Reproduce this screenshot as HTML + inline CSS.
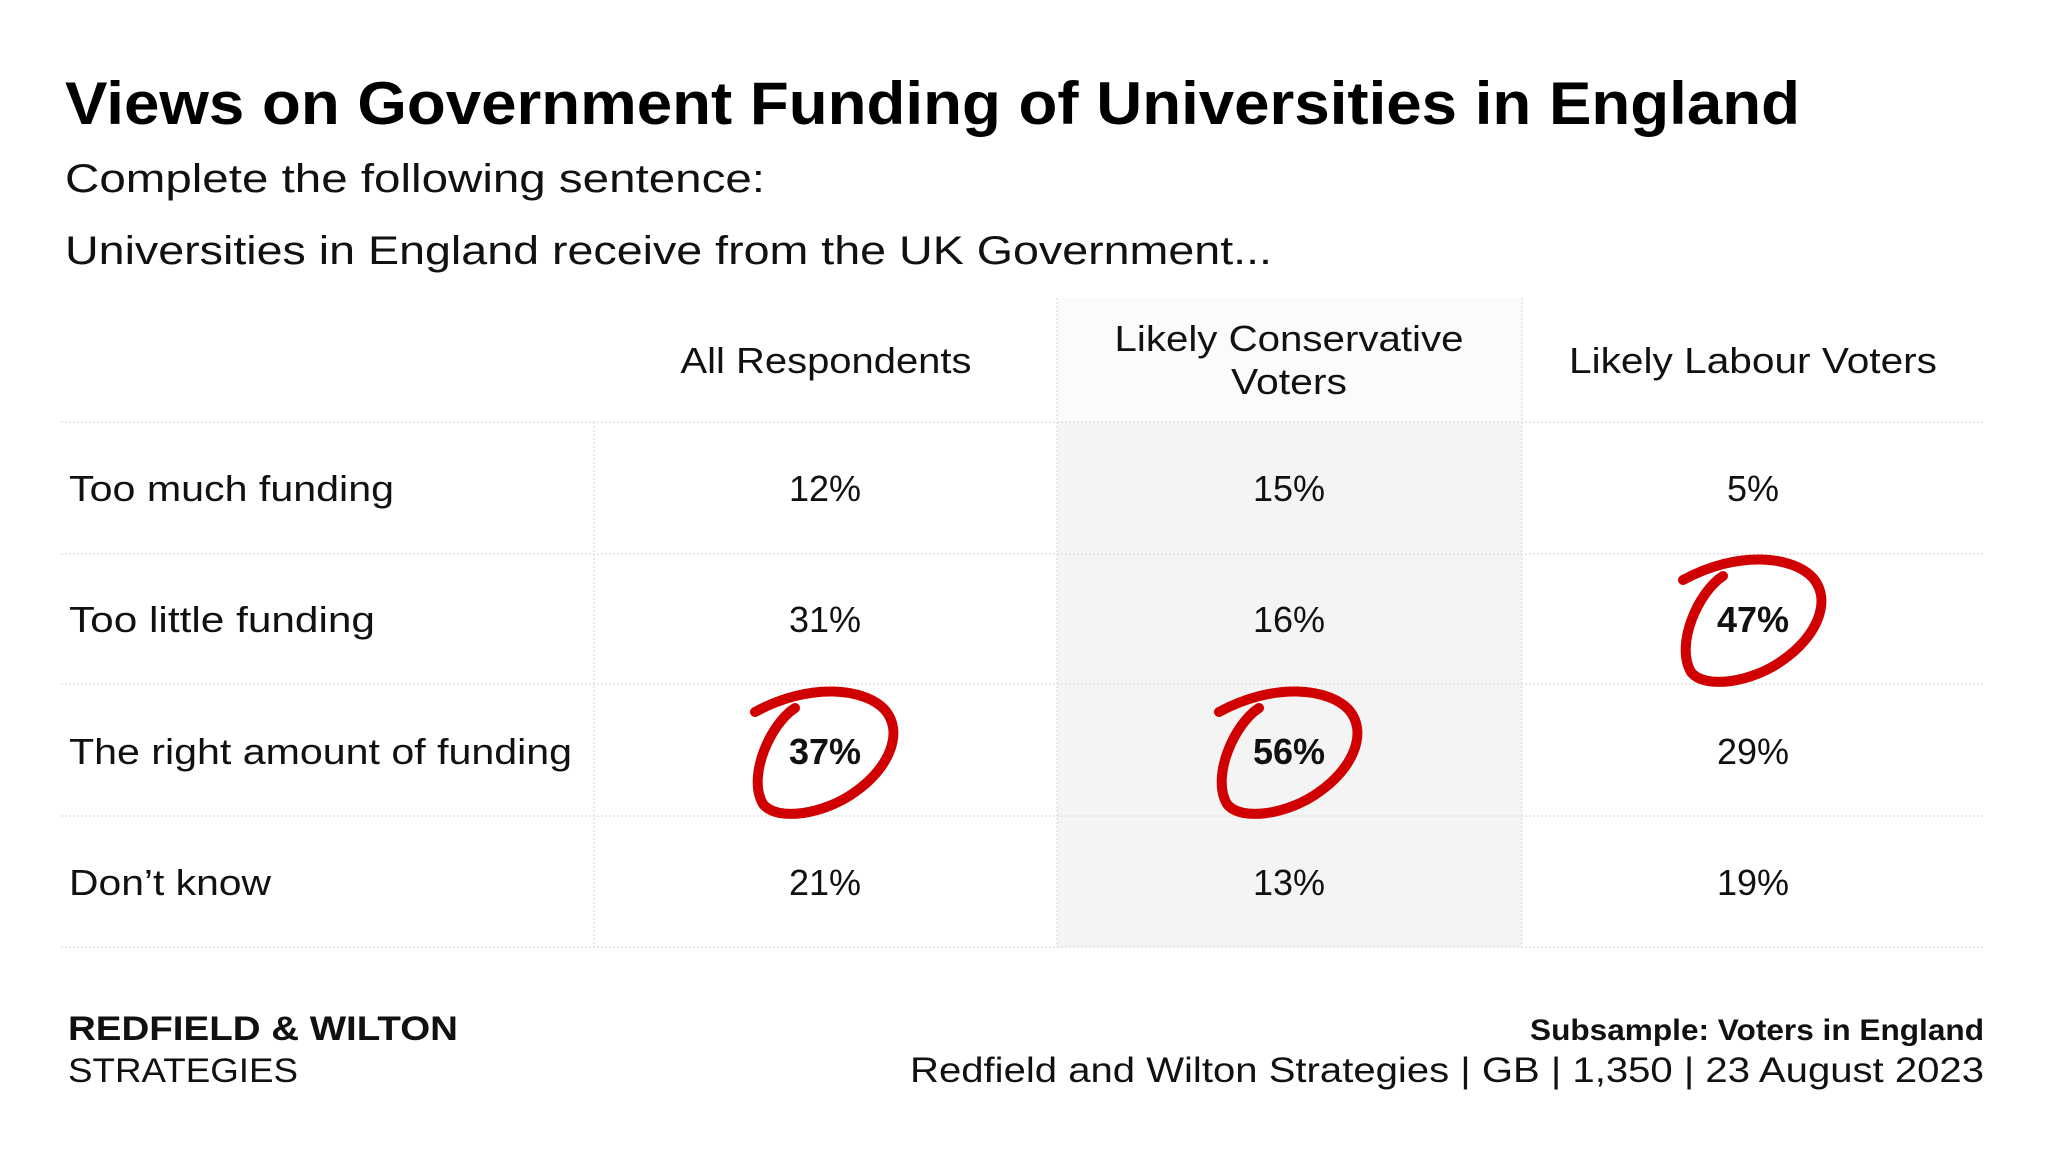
<!DOCTYPE html>
<html><head><meta charset="utf-8"><style>
html,body{margin:0;padding:0;background:#fff;}
svg{display:block;font-family:"Liberation Sans",sans-serif;}
</style></head><body>
<svg width="2048" height="1151" viewBox="0 0 2048 1151" xmlns="http://www.w3.org/2000/svg">
<rect width="2048" height="1151" fill="#fff"/>
<text x="65" y="124" font-size="60" font-weight="bold" fill="#000" textLength="1735" lengthAdjust="spacingAndGlyphs">Views on Government Funding of Universities in England</text>
<text x="65" y="192" font-size="40" fill="#111" textLength="700" lengthAdjust="spacingAndGlyphs">Complete the following sentence:</text>
<text x="65" y="264" font-size="40" fill="#111" textLength="1207" lengthAdjust="spacingAndGlyphs">Universities in England receive from the UK Government...</text>
<rect x="1057" y="298" width="465" height="124" fill="#fbfbfb"/>
<rect x="1057" y="422" width="465" height="525" fill="#f4f4f4"/>
<g stroke="#e2e2e2" stroke-width="1.5" stroke-dasharray="2,2">
<line x1="61" y1="422" x2="1983" y2="422"/>
<line x1="61" y1="554" x2="1983" y2="554"/>
<line x1="61" y1="684" x2="1983" y2="684"/>
<line x1="61" y1="816" x2="1983" y2="816"/>
<line x1="61" y1="947" x2="1983" y2="947"/>
<line x1="594" y1="422" x2="594" y2="947"/>
<line x1="1057" y1="298" x2="1057" y2="947"/>
<line x1="1522" y1="298" x2="1522" y2="947"/>
</g>
<g font-size="36" fill="#111" text-anchor="middle">
<text x="826" y="373" textLength="291" lengthAdjust="spacingAndGlyphs">All Respondents</text>
<text x="1289" y="351" textLength="349" lengthAdjust="spacingAndGlyphs">Likely Conservative</text>
<text x="1289" y="394" textLength="116" lengthAdjust="spacingAndGlyphs">Voters</text>
<text x="1753" y="373" textLength="368" lengthAdjust="spacingAndGlyphs">Likely Labour Voters</text>
</g>
<g font-size="36" fill="#111">
<text x="69" y="501" textLength="325" lengthAdjust="spacingAndGlyphs">Too much funding</text>
<text x="69" y="632" textLength="306" lengthAdjust="spacingAndGlyphs">Too little funding</text>
<text x="69" y="764" textLength="503" lengthAdjust="spacingAndGlyphs">The right amount of funding</text>
<text x="69" y="895" textLength="202" lengthAdjust="spacingAndGlyphs">Don’t know</text>
</g>
<g font-size="36" fill="#111" text-anchor="middle">
<text x="825" y="501">12%</text><text x="1289" y="501">15%</text><text x="1753" y="501">5%</text>
<text x="825" y="632">31%</text><text x="1289" y="632">16%</text><text x="1753" y="632" font-weight="bold">47%</text>
<text x="825" y="764" font-weight="bold">37%</text><text x="1289" y="764" font-weight="bold">56%</text><text x="1753" y="764">29%</text>
<text x="825" y="895">21%</text><text x="1289" y="895">13%</text><text x="1753" y="895">19%</text>
</g>
<defs>
<path id="circ" d="M -30,-44 C -55,-28 -78,25 -62,52 C -48,70 0,62 30,40 C 62,18 80,-18 60,-42 C 40,-64 -15,-70 -70,-40" fill="none" stroke="#d00000" stroke-width="10" stroke-linecap="round"/>
</defs>
<use href="#circ" x="825" y="752"/>
<use href="#circ" x="1289" y="752"/>
<use href="#circ" x="1753" y="620"/>
<text x="68" y="1040" font-size="34" font-weight="bold" fill="#111" textLength="390" lengthAdjust="spacingAndGlyphs">REDFIELD &amp; WILTON</text>
<text x="68" y="1082" font-size="34" fill="#111" textLength="230" lengthAdjust="spacingAndGlyphs">STRATEGIES</text>
<text x="1984" y="1040" font-size="30" font-weight="bold" fill="#111" text-anchor="end" textLength="454" lengthAdjust="spacingAndGlyphs">Subsample: Voters in England</text>
<text x="1984" y="1082" font-size="35" fill="#111" text-anchor="end" textLength="1074" lengthAdjust="spacingAndGlyphs">Redfield and Wilton Strategies | GB | 1,350 | 23 August 2023</text>
</svg>
</body></html>
